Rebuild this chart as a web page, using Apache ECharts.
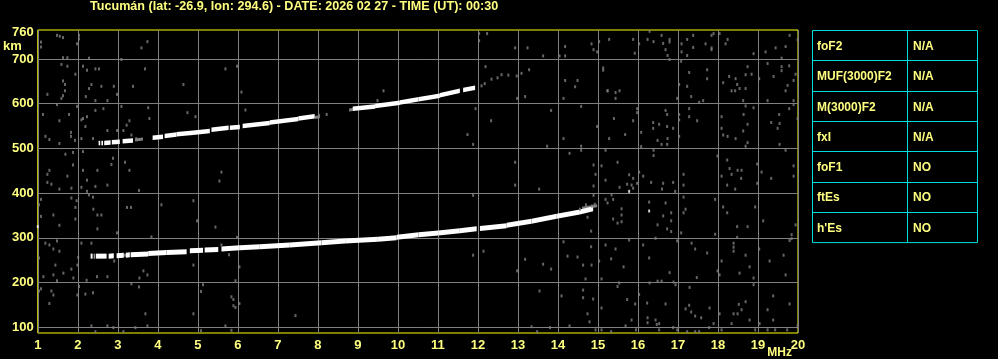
<!DOCTYPE html>
<html>
<head>
<meta charset="utf-8">
<script src="https://cdn.jsdelivr.net/npm/echarts@6/dist/echarts.min.js"></script>
<style>
html,body{margin:0;padding:0;background:#000;}
#chart{width:998px;height:359px;}
</style>
</head>
<body>
<div id="chart"></div>
<script>
// ---- text ----
const titleText = 'Tucumán (lat: -26.9, lon: 294.6) - DATE: 2026 02 27 - TIME (UT): 00:30';
const xTicks = [1,2,3,4,5,6,7,8,9,10,11,12,13,14,15,16,17,18,19,20];
const yTicks = [100,200,300,400,500,600,700];
const yLabels = [100,200,300,400,500,600,700,760];
const paramNames = ['foF2','MUF(3000)F2','M(3000)F2','fxI','foF1','ftEs',"h'Es"];
const paramValues = ['N/A','N/A','N/A','N/A','NO','NO','NO'];

// ---- echo traces, centre-line segments: [fStart MHz, fEnd MHz, hStart km, hEnd km] ----
const firstHop = [
  [2.32,2.37,259,259],[2.40,2.42,259,259],[2.45,2.72,259,259],[2.77,2.90,259,260],
  [2.97,3.15,260,261],[3.20,3.30,261,262],[3.32,3.76,262,264],[3.76,4.22,265,267],
  [4.22,4.72,267,269],[4.80,5.13,271,272],[5.17,5.51,273,274],[5.59,6.05,275,278],
  [6.05,6.55,278,280],[6.55,7.30,280,284],[7.30,8.09,284,289],[8.09,8.68,289,293],
  [8.68,9.50,293,297],[9.50,9.97,297,300],[9.97,10.52,301,307],[10.52,11.01,307,311],
  [11.01,11.55,311,316],[11.55,11.97,316,320],[12.05,12.72,321,327],[12.72,13.34,328,337],
  [13.34,13.97,337,348],[13.97,14.55,348,358],[14.55,14.88,358,365]
];
const firstHopFaint = [[14.60,14.98,366,372],[3.15,3.20,261,261]];
const secondHop = [
  [2.52,2.56,512,512],[2.59,2.63,512,512],[2.66,2.82,512,513],[2.85,3.05,514,515],
  [3.12,3.38,516,518],[3.87,4.13,524,526],[4.17,4.47,528,531],[4.47,4.88,532,535],
  [4.88,5.30,535,539],[5.34,5.77,542,546],[5.80,6.05,546,548],[6.12,6.80,550,557],
  [6.80,7.51,558,566],[7.51,7.92,567,572],[8.87,9.43,589,594],[9.43,10.05,595,602],
  [10.05,10.52,603,610],[10.52,11.05,610,618],[11.05,11.55,619,629],[11.63,11.93,631,636]
];
const secondHopFaint = [[3.43,3.63,519,521],[7.92,8.05,569,571],[8.78,8.87,586,587]];

// ---- scattered noise: [MHz, km] ----
const noise = [
 [1.48,753],[1.55,751],[1.63,748],[2.03,753],[2.03,745],[1.08,738],[1.08,727],[1.98,734],[3.74,739],[3.59,725],
 [1.63,703],[1.74,703],[2.28,702],[3.09,699],[1.59,688],[1.74,684],[2.13,684],[2.23,675],[2.44,678],[2.53,678],
 [1.94,666],[3.68,678],[5.69,678],[1.63,651],[1.68,643],[2.34,643],[2.28,634],[2.59,639],[2.90,639],[3.38,639],
 [4.64,643],[1.68,629],[1.24,621],[1.63,618],[1.59,612],[2.20,616],[2.44,607],[2.74,607],[2.98,621],[1.48,598],
 [1.98,594],[2.44,585],[2.64,589],[3.09,594],[3.76,591],[1.13,576],[1.78,576],[2.13,567],[2.23,571],[1.54,562],
 [2.09,564],[3.29,562],[3.22,552],[2.19,549],[3.79,567],[4.74,580],[4.94,571],[2.74,540],[2.98,540],[3.14,540],
 [3.34,530],[1.83,536],[1.19,527],[1.29,520],[1.83,527],[1.93,518],[2.38,522],[1.54,511],[3.46,522],[2.09,522],
 [1.69,487],[1.88,491],[2.13,493],[2.88,478],[2.84,464],[3.18,469],[1.88,463],[1.29,451],[1.24,442],[1.74,438],
 [3.29,451],[2.13,451],[2.49,451],[1.24,424],[1.34,420],[1.54,409],[1.84,411],[2.09,413],[2.23,429],[2.44,415],
 [2.74,418],[3.53,406],[5.59,447],[5.54,427],[2.23,404],[2.28,396],[2.38,391],[1.84,389],[1.97,383],[1.94,368],
 [1.08,386],[1.03,374],[1.08,348],[3.23,368],[3.33,368],[4.09,374],[4.89,383],[2.39,364],[2.49,351],[2.59,351],
 [1.39,351],[1.94,342],[1.54,328],[4.98,338],[5.44,324],[2.49,320],[2.98,311],[3.84,302],
 [1.19,288],[1.29,284],[1.39,275],[1.48,293],[1.54,270],[2.09,288],[2.34,288],[1.03,255],[2.01,256],[2.91,248],
 [1.44,239],[1.64,221],[1.84,230],[1.99,239],[1.14,213],[1.39,217],[1.48,204],[1.89,210],[2.22,205],[2.48,213],
 [2.74,213],[3.64,226],[3.74,217],[3.54,210],[5.59,284],[4.89,239],[3.34,197],[3.53,190],[5.13,195],[5.08,180],
 [1.08,186],[1.03,181],[1.34,181],[1.39,172],[1.99,172],[2.19,174],[2.38,177],[2.03,191],[1.29,153],[3.69,130],
 [4.89,130],[2.34,103],[2.74,103],[2.89,99],[3.14,90],[3.44,99],[3.74,103],[5.08,92],[2.44,90],[5.69,103],
 [5.98,684],[6.09,626],[6.19,586],[9.64,629],[9.49,607],[8.22,576],[8.03,574],[5.98,301],[5.78,262],[6.04,235],
 [5.94,204],[5.84,168],[5.89,162],[5.89,148],[5.94,144],[6.04,153],[7.44,126],[5.84,93],
 [12.03,757],[12.23,757],[12.03,741],[12.93,725],[13.24,725],[13.63,707],[14.04,707],[14.18,707],[14.18,728],[14.84,734],
 [15.03,739],[14.89,721],[14.98,716],[15.13,680],[15.13,675],[12.19,683],[14.18,652],[14.49,652],[14.43,638],[14.14,612],
 [12.98,612],[13.18,616],[15.24,629],[14.58,594],[11.94,589],[13.83,585],[14.98,549],[12.33,562],[11.74,531],[11.88,509],
 [14.14,522],[13.73,505],[14.58,505],[14.58,496],[14.29,489],[15.19,496],[12.93,469],[14.89,463],[15.09,461],[14.94,442],
 [15.19,429],[14.89,416],[12.93,418],[13.53,409],[11.88,395],[14.89,395],[15.19,386],[14.74,346],[14.83,315],[14.14,291],
 [14.83,280],[15.19,284],[12.14,270],[11.88,261],[14.24,259],[14.49,257],[13.18,252],[13.63,241],[13.83,230],[14.63,239],
 [14.84,239],[15.03,248],[12.98,226],[14.69,208],[15.09,208],[13.54,181],[14.09,170],[14.63,183],[14.63,166],[14.88,163],
 [14.74,130],[14.79,112],[15.09,143],[13.34,101],[13.48,90],[13.80,99],[14.29,103],[14.94,94],[15.09,94],
 [12.09,640],[12.17,645],[12.34,655],[12.49,658],[12.59,665],[12.76,664],[12.97,662],[13.09,668],[13.28,676],
 [14.55,364],[14.70,374],[14.85,371],[14.92,375],
 [16.29,762],[16.59,753],[16.79,744],[16.79,738],[16.39,739],[16.63,735],[16.03,734],[15.28,744],[15.88,744],[16.24,744],
 [16.69,721],[15.92,713],[16.74,708],[16.79,699],[17.09,734],[17.09,716],[17.23,744],[17.38,753],[17.38,726],[17.23,708],
 [17.69,734],[17.84,725],[17.84,721],[17.84,753],[17.89,757],[18.04,757],[18.19,734],[18.24,744],[18.89,712],[19.19,716],
 [19.44,725],[19.69,728],[19.59,702],[19.79,753],[19.99,743],
 [17.08,695],[17.28,670],[17.73,676],[17.73,656],[17.03,643],[17.23,639],[17.33,616],[17.63,607],[17.53,603],[16.98,612],
 [18.13,647],[18.28,661],[18.44,656],[18.48,643],[18.34,629],[18.43,629],[18.54,634],[18.69,634],[18.69,665],[18.74,683],
 [18.84,666],[18.63,607],[19.03,656],[19.24,690],[19.39,661],[19.59,683],[19.59,674],[19.78,685],[19.94,666],[19.89,652],
 [19.74,641],[19.69,629],[19.24,607],[19.89,607],[15.24,629],[15.44,625],[15.54,629],[15.44,612],[15.98,589],
 [15.40,567],[15.88,562],[15.98,580],[16.69,585],[16.73,576],[16.38,558],[16.53,554],[16.73,549],[16.88,545],[16.38,545],
 [16.08,536],[15.68,531],[15.28,522],[16.49,518],[16.74,522],[16.59,509],[16.73,509],[16.08,504],[17.03,576],[17.28,589],
 [17.28,571],[17.48,562],[17.03,564],[17.03,527],[18.09,571],[18.09,545],[18.13,530],[18.24,527],[18.44,522],[18.63,539],
 [18.74,554],[18.74,513],[18.69,505],[18.64,576],[18.89,591],[18.69,595],[19.53,576],[19.33,558],[19.54,556],[19.49,545],
 [19.78,589],[19.89,598],[19.99,567],[19.54,509],
 [16.39,496],[16.39,484],[15.49,469],[15.78,441],[16.03,447],[16.13,438],[15.88,433],[15.73,420],[15.84,418],[15.98,422],
 [15.88,411],[15.54,413],[16.33,424],[16.63,422],[16.88,424],[16.60,409],[16.93,404],[17.14,442],[17.14,418],[17.99,483],
 [18.23,474],[18.29,455],[18.49,451],[18.59,451],[18.34,442],[18.09,438],[18.58,433],[18.23,418],[18.43,409],[18.98,465],
 [19.09,447],[19.33,433],[19.69,496],[19.89,461],[19.89,438],[18.98,422],
 [15.34,396],[15.24,378],[15.38,386],[15.59,365],[15.59,351],[15.38,342],[15.49,333],[15.59,336],[16.28,380],[16.69,378],
 [16.83,356],[16.83,338],[16.63,349],[16.49,329],[16.73,320],[16.83,314],[17.14,391],[17.19,364],[17.14,356],[17.08,311],
 [17.93,386],[17.93,308],[18.13,369],[18.23,356],[18.48,325],[18.74,325],[18.48,301],[18.93,369],[19.13,338],[19.94,329],
 [19.84,307],[16.44,299],[15.78,295],
 [15.44,275],[15.33,253],[15.64,235],[16.13,284],[16.28,255],[16.79,222],[16.98,293],[17.34,288],[17.43,275],[17.73,266],
 [17.99,226],[18.04,217],[18.09,248],[18.39,288],[18.39,279],[18.39,270],[18.69,261],[18.79,235],[18.54,221],[18.89,210],
 [19.03,275],[19.29,248],[19.64,261],[19.69,217],[19.79,294],[19.84,298],[17.47,211],[16.29,199],[16.49,203],[16.59,203],
 [16.89,201],[16.94,195],
 [15.53,199],[15.49,191],[16.03,173],[15.93,152],[15.73,162],[16.23,154],[16.69,152],[17.29,189],[17.19,141],[17.28,149],
 [17.33,134],[17.43,125],[17.58,121],[17.79,143],[17.89,108],[18.04,130],[18.34,108],[18.39,130],[18.49,130],[18.52,151],
 [18.59,139],[18.69,157],[18.79,116],[19.38,170],[19.24,139],[19.38,116],[19.79,152],[18.89,195],[16.24,121],[16.24,110],
 [16.44,116],[16.47,106],[16.53,108],[15.84,116],[15.69,103],[15.95,94],[15.33,90],[16.53,94],[16.88,99],[16.98,94],
 [17.23,90],[17.43,90],[17.53,90],[17.78,99],[18.09,94],[18.93,94],[19.04,108],[19.24,94],[19.43,94],[19.73,94],[19.99,103]
];
const whiteDots = [[1.0,325],[15.78,404],[16.28,360]];

// ---- styles ----
const YELLOW_TEXT = '#ffff80';
const FONT = '"Liberation Sans", Arial, sans-serif';

function bandSeries(data, color, thickness) {
  return {
    type: 'custom',
    data: data,
    silent: true,
    renderItem: function (params, api) {
      const p0 = api.coord([api.value(0), api.value(2)]);
      const p1 = api.coord([api.value(1), api.value(3)]);
      const t = thickness / 2;
      return {
        type: 'polygon',
        shape: {points: [[p0[0], p0[1] - t], [p1[0], p1[1] - t], [p1[0], p1[1] + t], [p0[0], p0[1] + t]]},
        style: {fill: color}
      };
    }
  };
}

// table graphic
const tableX = 812, tableY = 30, colW1 = 95, colW2 = 70, rowH = 30.3;
const CYAN = '#00dede';
const graphics = [];
graphics.push({type: 'rect', shape: {x: tableX + 0.5, y: tableY + 0.5, width: colW1 + colW2, height: rowH * paramNames.length},
  style: {fill: 'none', stroke: CYAN, lineWidth: 1}, silent: true});
graphics.push({type: 'line', shape: {x1: tableX + colW1 + 0.5, y1: tableY, x2: tableX + colW1 + 0.5, y2: tableY + rowH * paramNames.length},
  style: {stroke: CYAN, lineWidth: 1}, silent: true});
paramNames.forEach(function (name, i) {
  const yc = tableY + rowH * i + rowH / 2;
  if (i > 0) {
    const yl = Math.round(tableY + rowH * i) + 0.5;
    graphics.push({type: 'line', shape: {x1: tableX, y1: yl, x2: tableX + colW1 + colW2, y2: yl},
      style: {stroke: CYAN, lineWidth: 1}, silent: true});
  }
  graphics.push({type: 'text', x: tableX + 5, y: yc + 1.5,
    style: {text: name, fill: YELLOW_TEXT, font: 'bold 12px ' + FONT, textVerticalAlign: 'middle'}, silent: true});
  graphics.push({type: 'text', x: tableX + colW1 + 6, y: yc + 1.5,
    style: {text: paramValues[i], fill: YELLOW_TEXT, font: 'bold 12px ' + FONT, textVerticalAlign: 'middle'}, silent: true});
});

const chart = echarts.init(document.getElementById('chart'), null, {renderer: 'canvas'});
chart.setOption({
  backgroundColor: '#000',
  animation: false,
  title: {
    text: titleText, left: 90, top: 0, padding: 0,
    textStyle: {color: YELLOW_TEXT, fontSize: 12.6, fontWeight: 'bold', fontFamily: FONT}
  },
  grid: {left: 37, top: 30, width: 761, height: 303, show: true, borderColor: '#ffff00', borderWidth: 1, backgroundColor: '#000'},
  xAxis: {
    type: 'value', min: 1, max: 20, interval: 1,
    name: 'MHz', nameLocation: 'end', nameGap: -6, nameMoveOverlap: false,
    nameTextStyle: {color: YELLOW_TEXT, fontSize: 12, fontWeight: 'bold', fontFamily: FONT, align: 'right', verticalAlign: 'top', padding: [14, 0, 0, 0]},
    axisLine: {show: false}, axisTick: {show: false},
    axisLabel: {color: YELLOW_TEXT, fontSize: 13, fontWeight: 'bold', fontFamily: FONT, margin: 6,
      customValues: xTicks, showMinLabel: true, showMaxLabel: true},
    splitLine: {show: true, lineStyle: {color: '#808080', width: 1}}
  },
  yAxis: {
    type: 'value', min: 87, max: 765,
    name: 'km', nameLocation: 'end', nameGap: -16, nameMoveOverlap: false,
    nameTextStyle: {color: YELLOW_TEXT, fontSize: 13, fontWeight: 'bold', fontFamily: FONT, align: 'right', verticalAlign: 'middle', padding: [0, 16, 0, 0]},
    axisLine: {show: false},
    axisTick: {show: false, customValues: yTicks},
    axisLabel: {color: YELLOW_TEXT, fontSize: 13, fontWeight: 'bold', fontFamily: FONT, margin: 4, customValues: yLabels},
    splitLine: {show: true, lineStyle: {color: '#808080', width: 1}}
  },
  graphic: graphics,
  series: [
    {type: 'scatter', data: noise, symbol: 'rect', symbolSize: [2, 3], itemStyle: {color: '#7f7f7f'}, silent: true},
    bandSeries(firstHopFaint, '#7f7f7f', 3),
    bandSeries(secondHopFaint, '#7f7f7f', 3),
    bandSeries(firstHop, '#ffffff', 5),
    bandSeries(secondHop, '#ffffff', 4.5),
    {type: 'scatter', data: whiteDots, symbol: 'rect', symbolSize: [2, 3], itemStyle: {color: '#ffffff'}, silent: true}
  ]
});
</script>
</body>
</html>
